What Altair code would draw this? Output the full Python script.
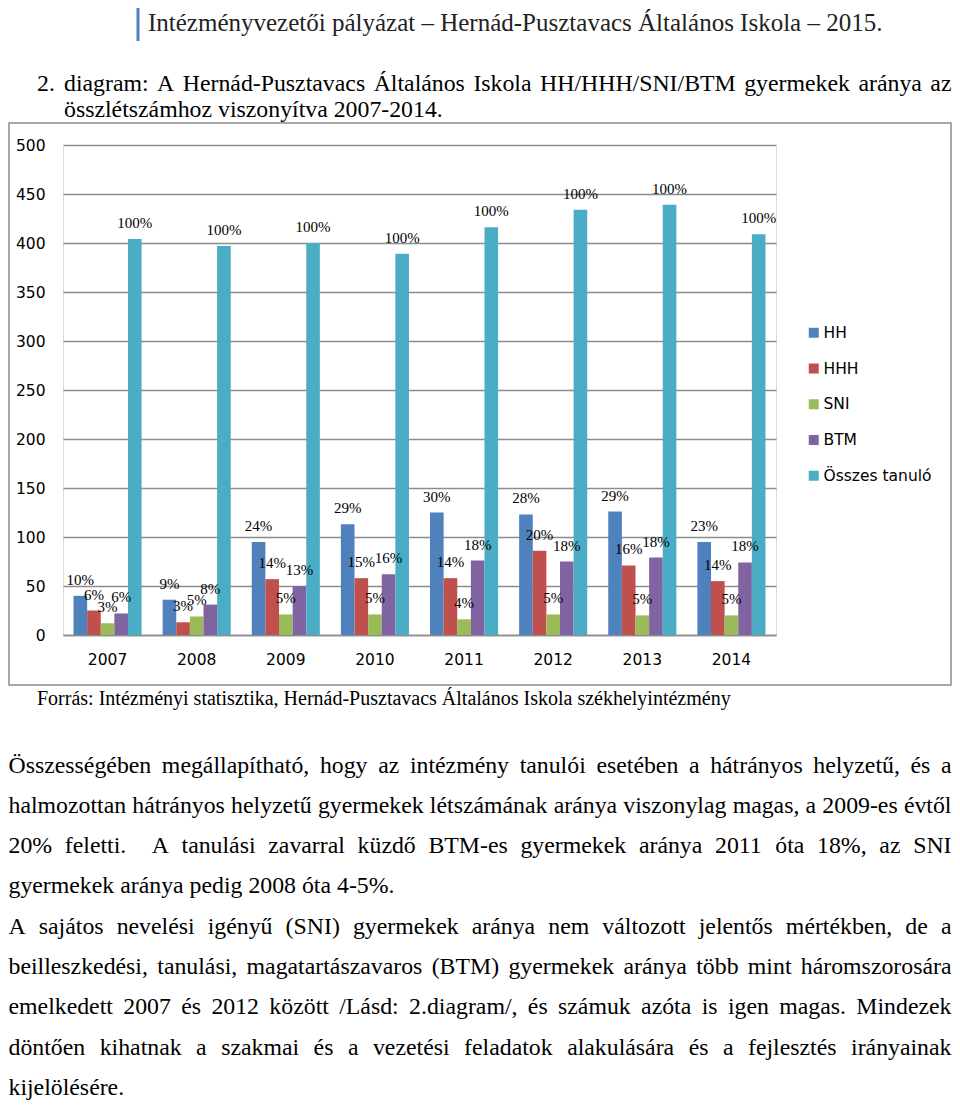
import altair as alt
import pandas as pd

# ---------------- data ----------------
years = ["2007", "2008", "2009", "2010", "2011", "2012", "2013", "2014"]
series = ["HH", "HHH", "SNI", "BTM", "Összes tanuló"]
hh = [40, 36, 95, 113, 125, 123, 126, 95]
hhh = [25, 13, 57, 58, 58, 86, 71, 55]
sni = [12, 19, 21, 21, 16, 21, 20, 20]
btm = [22, 31, 50, 62, 76, 75, 79, 74]
total = [404, 397, 400, 389, 416, 434, 439, 409]
hh_pct = ["10%", "9%", "24%", "29%", "30%", "28%", "29%", "23%"]
hhh_pct = ["6%", "3%", "14%", "15%", "14%", "20%", "16%", "14%"]
sni_pct = ["3%", "5%", "5%", "5%", "4%", "5%", "5%", "5%"]
btm_pct = ["6%", "8%", "13%", "16%", "18%", "18%", "18%", "18%"]
total_pct = ["100%", "100%", "100%", "100%", "100%", "100%", "100%", "100%"]
y_ticks = [0, 50, 100, 150, 200, 250, 300, 350, 400, 450, 500]

header_text = "Intézményvezetői pályázat – Hernád-Pusztavacs Általános Iskola – 2015."
caption_num = "2."
caption_lines = [
    "diagram: A Hernád-Pusztavacs Általános Iskola HH/HHH/SNI/BTM gyermekek aránya az",
    "összlétszámhoz viszonyítva 2007-2014.",
]
source_text = "Forrás: Intézményi statisztika, Hernád-Pusztavacs Általános Iskola székhelyintézmény"
para_lines = [
    "Összességében megállapítható, hogy az intézmény tanulói esetében a hátrányos helyzetű, és a",
    "halmozottan hátrányos helyzetű gyermekek létszámának aránya viszonylag magas, a 2009-es évtől",
    "20% feletti.  A tanulási zavarral küzdő BTM-es gyermekek aránya 2011 óta 18%, az SNI",
    "gyermekek aránya pedig 2008 óta 4-5%.",
    "A sajátos nevelési igényű (SNI) gyermekek aránya nem változott jelentős mértékben, de a",
    "beilleszkedési, tanulási, magatartászavaros (BTM) gyermekek aránya több mint háromszorosára",
    "emelkedett 2007 és 2012 között /Lásd: 2.diagram/, és számuk azóta is igen magas. Mindezek",
    "döntően kihatnak a szakmai és a vezetési feladatok alakulására és a fejlesztés irányainak",
    "kijelölésére.",
]
para_justify = [True, True, True, False, True, True, True, True, False]

colors = ["#4F81BD", "#C0504D", "#9BBB59", "#8064A2", "#4BACC6"]

# ---------------- layout (page pixels) ----------------
PX0, PY0 = 63, 145          # plot area origin on the page
PLOT_W, PLOT_H = 713, 490
PAD = {"left": PX0 - 8, "top": PY0 - 8, "right": 944 - (PX0 - 8) - PLOT_W,
       "bottom": 1093 - (PY0 - 8) - PLOT_H}
LEFT_EDGE, RIGHT_EDGE = 8.5, 951.5
BODY_FS = 23.8
PARA_TOP, PARA_STEP = 772.5, 40.3


def px(x):
    return x - PX0


def py(y):
    return y - PY0


# Times / Liberation Serif advance widths (1/1000 em)
TW = {" ": 250, ".": 250, ",": 250, ":": 278, ";": 278, "/": 278, "(": 333, ")": 333,
      "-": 333, "–": 500, "%": 833}
for c in "0123456789":
    TW[c] = 500
for c, w in zip("ABCDEFGHIJKLMNOPQRSTUVWXYZ",
                [722, 667, 667, 722, 611, 556, 722, 722, 333, 389, 722, 611, 889, 722, 722,
                 556, 722, 667, 556, 611, 722, 722, 944, 722, 722, 611]):
    TW[c] = w
for c, w in zip("abcdefghijklmnopqrstuvwxyz",
                [444, 500, 444, 500, 444, 333, 500, 500, 278, 278, 500, 278, 778, 500, 500,
                 500, 500, 333, 389, 278, 500, 500, 722, 500, 500, 444]):
    TW[c] = w
for c, b in zip("áéíóöőúüűÁÉÍÓÖŐÚÜŰ", "aeiooouuuAEIOOOUUU"):
    TW[c] = TW[b]


def wlen(s, fs):
    return sum(TW.get(ch, 500) for ch in s) / 1000.0 * fs


def line_words(line, x0, x1, fs, justify):
    words = line.split(" ")
    widths = [wlen(w, fs) for w in words]
    if justify and len(words) > 1:
        gap = (x1 - x0 - sum(widths)) / (len(words) - 1)
    else:
        gap = 0.25 * fs
    out, x = [], x0
    for w, wd in zip(words, widths):
        if w:
            out.append((w, x))
        x += wd + gap
    return out


text_rows = []


def add_line(line, x0, x1, base, fs, justify):
    for w, x in line_words(line, x0, x1, fs, justify):
        text_rows.append({"px": px(x), "py": py(base), "text": w, "fs": fs})


# caption
text_rows.append({"px": px(37), "py": py(90.5), "text": caption_num, "fs": BODY_FS})
add_line(caption_lines[0], 64, RIGHT_EDGE, 90.5, BODY_FS, True)
add_line(caption_lines[1], 64, RIGHT_EDGE, 116.5, BODY_FS, False)
# source
text_rows.append({"px": px(37), "py": py(704.5), "text": source_text, "fs": 20})
# paragraphs
for i, (ln, j) in enumerate(zip(para_lines, para_justify)):
    add_line(ln, LEFT_EDGE, RIGHT_EDGE, PARA_TOP + i * PARA_STEP, BODY_FS, j)

text_df = pd.DataFrame(text_rows)
header_df = pd.DataFrame([{"px": px(148), "py": py(31), "text": header_text}])
frame_df = pd.DataFrame([{"x": px(9), "x2": px(951), "y": py(123), "y2": py(685)}])
hbar_df = pd.DataFrame([{"x": px(136.5), "x2": px(139.5), "y": py(3), "y2": py(41)}])

# ---------------- chart data ----------------
rows = []
for s, vals, labs in zip(series, [hh, hhh, sni, btm, total],
                         [hh_pct, hhh_pct, sni_pct, btm_pct, total_pct]):
    for yr, v, lab in zip(years, vals, labs):
        rows.append({"year": yr, "series": s, "value": v, "label": lab})
df = pd.DataFrame(rows)

GRID = "#8c8c8c"
x_enc = alt.X("year:N", title=None,
              scale=alt.Scale(paddingInner=0.236, paddingOuter=0.118),
              axis=alt.Axis(labelAngle=0, labelFont="DejaVu Sans", labelFontSize=15.5,
                            labelColor="#000000", labelPadding=17, ticks=False,
                            domain=True, domainColor=GRID, domainWidth=1.3, grid=False))
xo_enc = alt.XOffset("series:N", sort=series)
y_enc = alt.Y("value:Q", title=None, scale=alt.Scale(domain=[0, 500], nice=False),
              axis=alt.Axis(values=y_ticks, labelFont="DejaVu Sans", labelFontSize=15.5,
                            labelColor="#000000", labelPadding=18, ticks=False,
                            domain=False, grid=True, gridColor=GRID, gridWidth=1.3))
color_enc = alt.Color("series:N", sort=series,
                      scale=alt.Scale(domain=series, range=colors),
                      legend=alt.Legend(title=None, orient="none", legendX=px(806),
                                        legendY=py(325), symbolType="square",
                                        symbolSize=100, symbolStrokeWidth=0,
                                        labelFont="DejaVu Sans", labelFontSize=15.5,
                                        labelColor="#000000", labelOffset=2,
                                        rowPadding=18.75, padding=0))

bars = alt.Chart(df).mark_bar().encode(x=x_enc, xOffset=xo_enc, y=y_enc, color=color_enc)
labels = alt.Chart(df).mark_text(font="Liberation Serif", fontSize=15, baseline="alphabetic",
                                 dy=-11, color="#000000").encode(
    x=alt.X("year:N"), xOffset=alt.XOffset("series:N", sort=series),
    y=alt.Y("value:Q"), text="label:N")

frame = alt.Chart(frame_df).mark_rect(fillOpacity=0, stroke=GRID, strokeWidth=1.5).encode(
    x=alt.X("x:Q", scale=None), x2="x2", y=alt.Y("y:Q", scale=None), y2="y2")
hbar = alt.Chart(hbar_df).mark_rect(color="#4F81BD").encode(
    x=alt.X("x:Q", scale=None), x2="x2", y=alt.Y("y:Q", scale=None), y2="y2")
header = alt.Chart(header_df).mark_text(font="Liberation Serif", fontSize=25, align="left",
                                        baseline="alphabetic", color="#222222").encode(
    x=alt.X("px:Q", scale=None), y=alt.Y("py:Q", scale=None), text="text:N")
body = alt.Chart(text_df).mark_text(font="Liberation Serif", align="left",
                                    baseline="alphabetic", color="#000000").encode(
    x=alt.X("px:Q", scale=None), y=alt.Y("py:Q", scale=None),
    size=alt.Size("fs:Q", scale=None), text="text:N")

chart = alt.layer(frame, bars, labels, hbar, header, body).properties(
    width=PLOT_W, height=PLOT_H,
    autosize=alt.AutoSizeParams(type="none"),
    padding=PAD,
).configure_view(stroke=None).configure(background="#ffffff")

chart.save("out.html", embed_options={"renderer": "svg", "actions": False})
